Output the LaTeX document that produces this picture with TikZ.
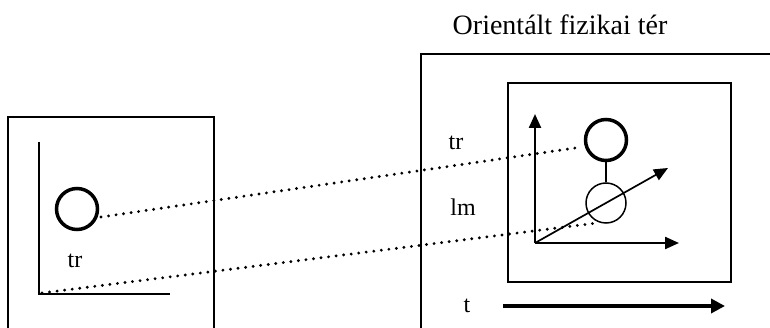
\documentclass[tikz,border=0pt]{standalone}
\usepackage{fontspec}
\setmainfont{Liberation Serif}
\usetikzlibrary{arrows.meta}
\begin{document}
\begin{tikzpicture}[x=1pt,y=-1pt,
  frame/.style={line width=1.5pt},
  axis/.style={line width=2.3pt},
  axarrow/.style={line width=2.3pt,-{Triangle[length=14pt,width=12pt]}},
  bigarrow/.style={line width=3.8pt,-{Triangle[length=14pt,width=14pt]}},
  thickcirc/.style={circle,draw,line width=3.5pt,minimum size=41pt,inner sep=0pt},
  thincirc/.style={circle,draw,line width=1.5pt,minimum size=40pt,inner sep=0pt},
  lbl/.style={inner sep=0pt,font=\fontsize{24}{26}\selectfont},
  dots/.style={line width=3.2pt,line cap=round,dash pattern=on 0pt off 7.6pt}]
\useasboundingbox (0,0) rectangle (770,328);
% left box (open at bottom)
\draw[frame] (8,330) -- (8,117) -- (214,117) -- (214,330);
% left axes
\coordinate (lo) at (39,294);
\draw[axis] (39,142) -- (lo) -- (170,294);
\node[thickcirc] (lc) at (77,209) {};
\node[lbl] (ltr) at (75,261) {tr};
% title
\node[inner sep=0pt,font=\fontsize{28}{30}\selectfont] (title) at (560,25) {Orientált fizikai tér};
% right outer box (open at right and bottom)
\draw[frame] (421,330) -- (421,54) -- (772,54);
% inner box
\draw[frame] (508,83) rectangle (731,282);
% 3D axes
\coordinate (ro) at (535,243);
\coordinate (ry) at (535,114);
\coordinate (rx) at (679,243);
\coordinate (rz) at (668,168);
\draw[axarrow] (ro) -- (ry);
\draw[axarrow] (ro) -- (rx);
\draw[line width=1.7pt,-{Triangle[length=14pt,width=12pt]}] (ro) -- (rz);
\node[thickcirc] (tc) at (606,140) {};
\node[thincirc] (bc) at (606,203) {};
\draw[line width=1.7pt] (tc) -- (bc);
\node[lbl] (rtr) at (456,143) {tr};
\node[lbl] (rlm) at (463,207) {lm};
\node[lbl] (rt) at (467,306) {t};
\coordinate (ta) at (503,306);
\coordinate (tb) at (725,306);
\draw[bigarrow] (ta) -- (tb);
% dotted links
\coordinate (d1s) at (101,217);
\coordinate (d1e) at (582,147);
\coordinate (d2s) at (42,293);
\coordinate (d2e) at (597,223);
\draw[dots] (d1s) -- (d1e);
\draw[dots] (d2s) -- (d2e);
\end{tikzpicture}
\end{document}
